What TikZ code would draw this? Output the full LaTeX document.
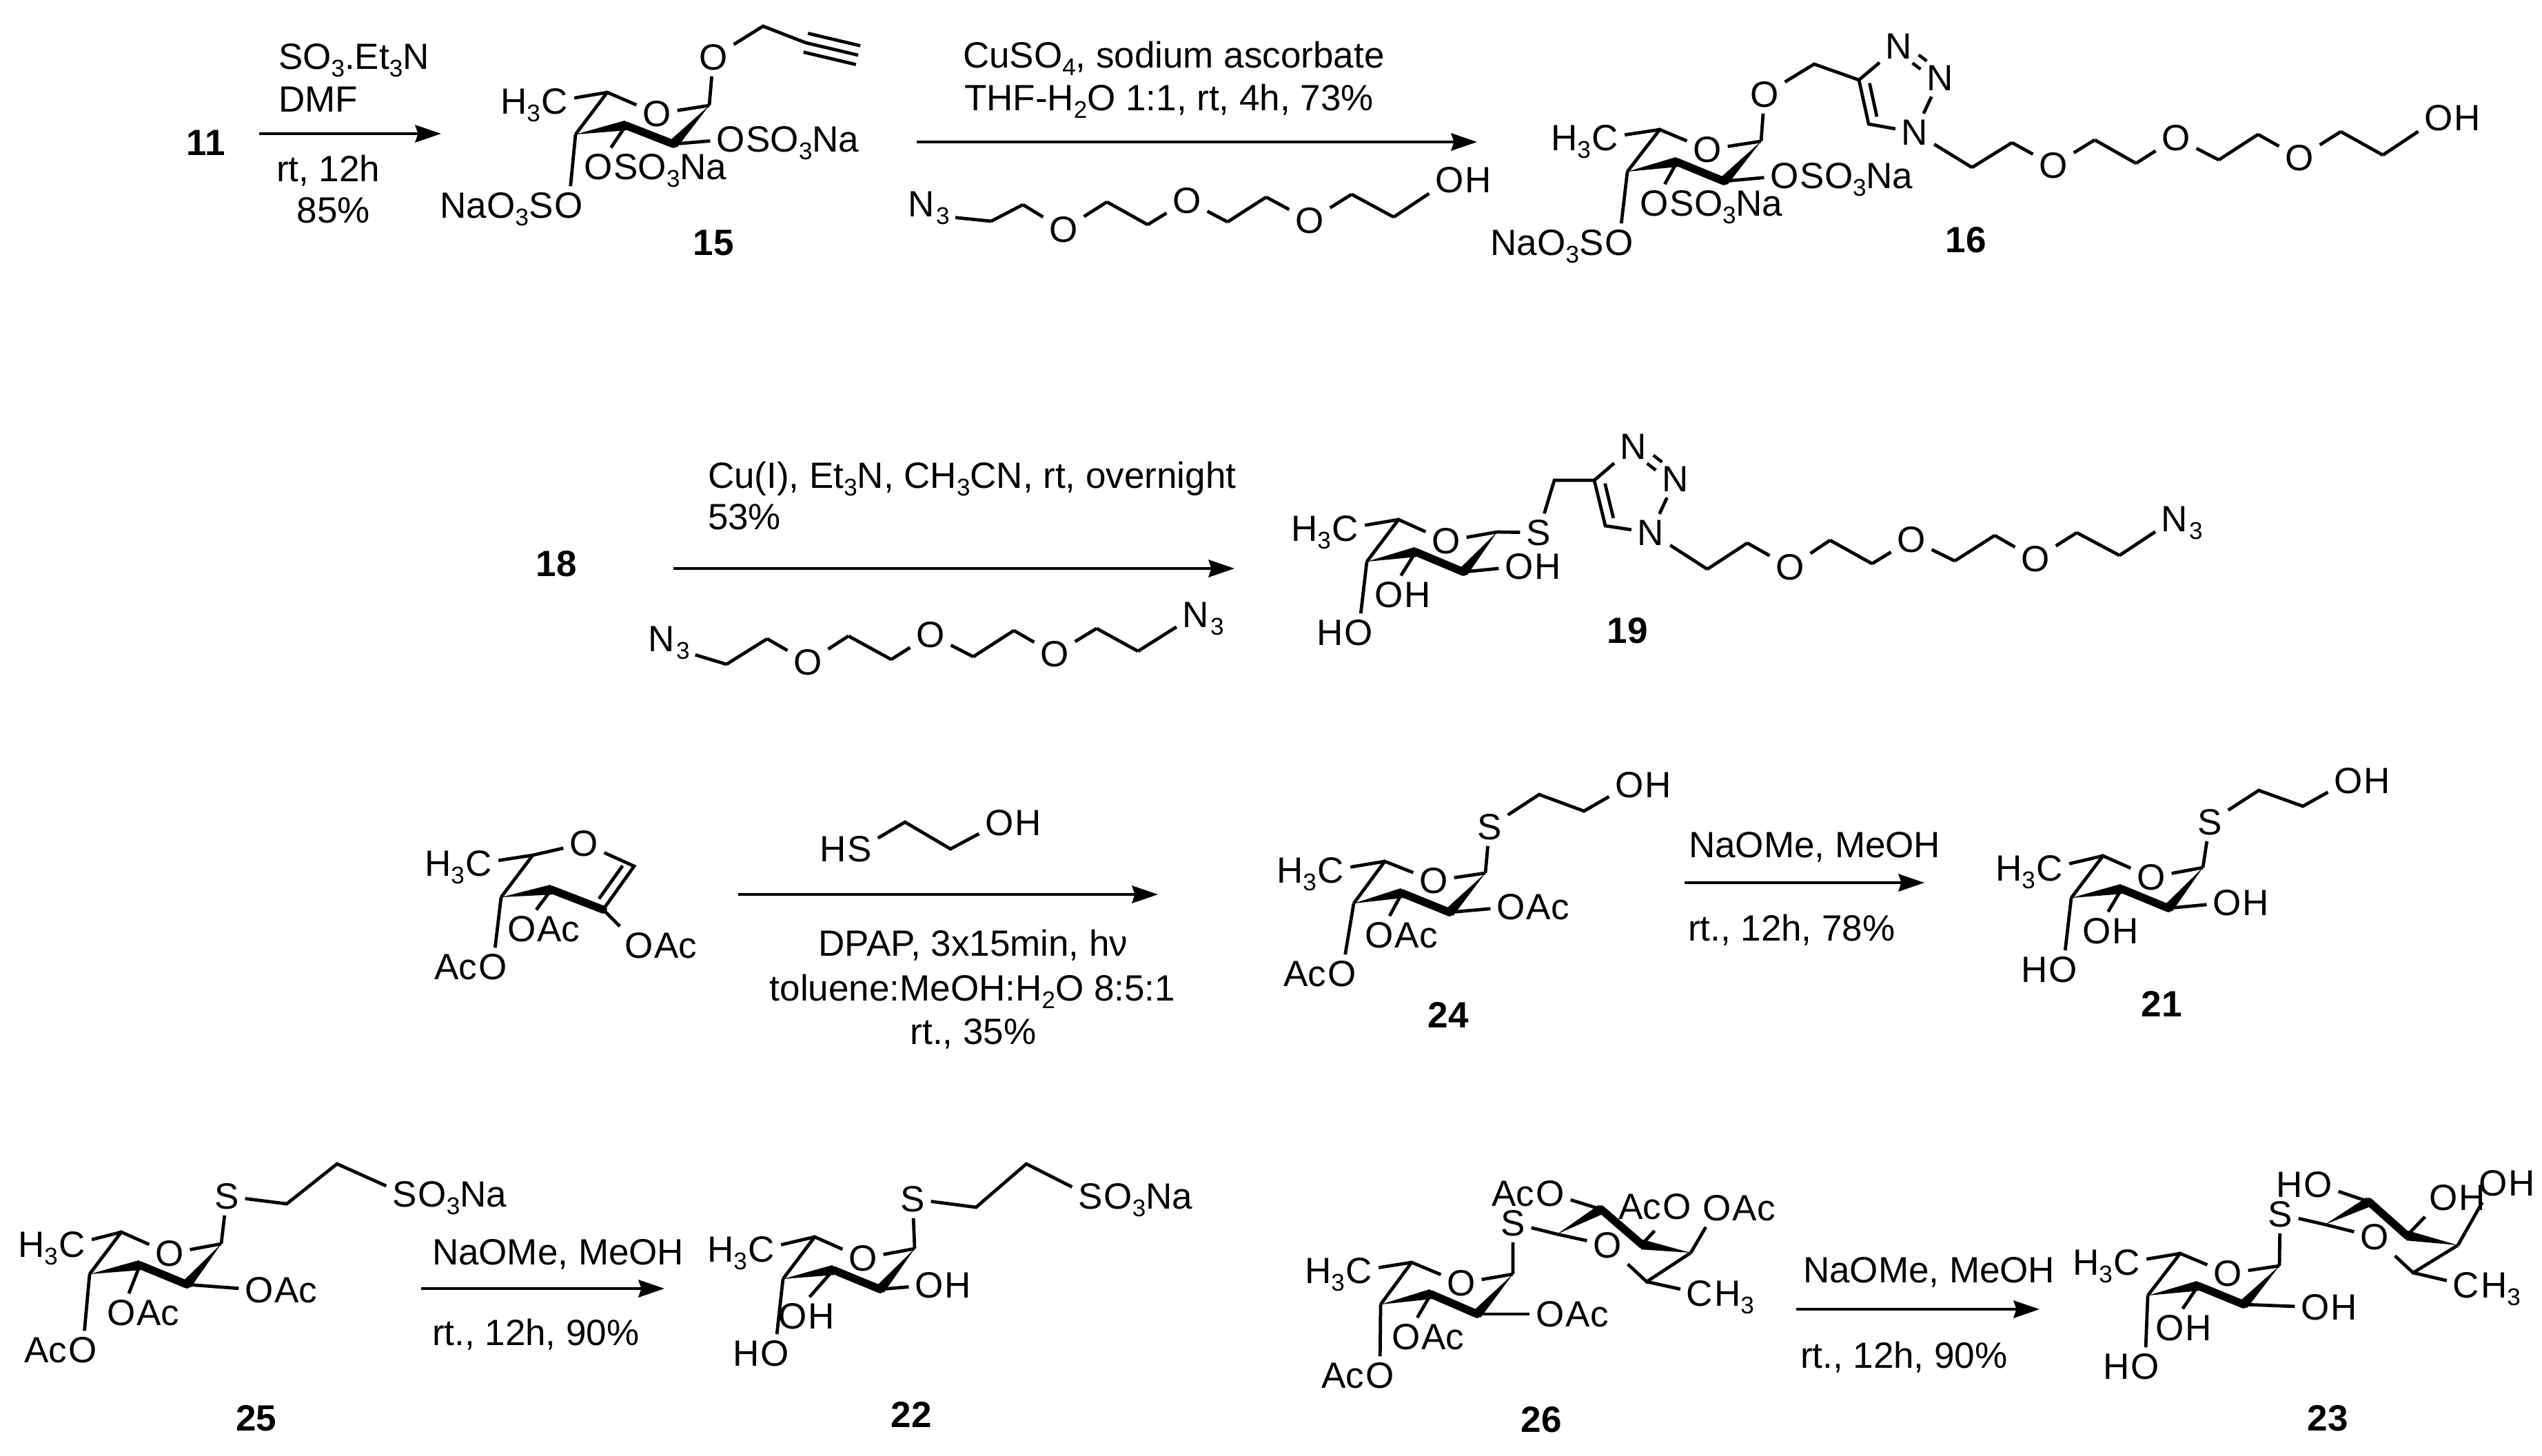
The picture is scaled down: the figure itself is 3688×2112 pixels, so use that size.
\documentclass[tikz,border=0pt]{standalone}
\usepackage{fontspec}
\setmainfont{Liberation Sans}
\usetikzlibrary{arrows.meta}
\usetikzlibrary{calc}
\newcommand{\chemsize}{\fontsize{10.6}{12}\selectfont}
\newcommand{\sbs}[1]{\raisebox{-0.22em}{\fontsize{7}{8}\selectfont #1}}
\tikzset{
  bond/.style={line width=0.95pt},
  boldbond/.style={line width=2.3pt, line cap=round},
  rxn/.style={line width=0.95pt, -{Stealth[length=7.5pt, width=5pt, inset=0.8pt]}},
  atom/.style={inner sep=1.6pt, font=\chemsize},
  tail/.style={inner sep=0pt, font=\chemsize},
  cpd/.style={inner sep=0pt, font=\chemsize\bfseries},
  reagent/.style={inner sep=0pt, font=\chemsize, anchor=base west},
  reagentc/.style={inner sep=0pt, font=\chemsize, anchor=base},
}
\newcommand{\atomR}[4]{\node [atom] (#1) at (#2) {#3};
  \node [tail, anchor=base west] (#1r) at ([xshift=-1.6pt]#1.base east) {#4};}
\newcommand{\atomL}[4]{\node [atom] (#1) at (#2) {#4};
  \node [tail, anchor=base east] (#1l) at ([xshift=1.6pt]#1.base west) {#3};}
\newcommand{\wedgebond}[2]{\fill (#1) -- ($(#2)!1.45pt!90:(#1)$) -- ($(#2)!1.45pt!-90:(#1)$) -- cycle;}
\newcommand{\innerbond}[3]{\draw [bond] ($(#1)!.12!(#2)!2.8pt!#3:(#2)$) -- ($(#2)!.12!(#1)!2.8pt!-#3:(#1)$);}
\newcommand{\pyran}[7]{%
  \coordinate (#1c5) at (#2);
  \node [atom] (#1o) at (#3) {O};
  \coordinate (#1c1) at (#4);
  \coordinate (#1c2) at (#5);
  \coordinate (#1c3) at (#6);
  \coordinate (#1c4) at (#7);
  \draw [bond] (#1o) -- (#1c5) -- (#1c4);
  \draw [bond] (#1o) -- (#1c1);
  \draw [boldbond] (#1c2) -- (#1c3);
  \wedgebond{#1c1}{#1c2}
  \wedgebond{#1c4}{#1c3}}
\newcommand{\triazole}[6]{%
  \coordinate (#1c4) at (#2);
  \node [atom] (#1n3) at (#3) {N};
  \node [atom] (#1n2) at (#4) {N};
  \node [atom] (#1n1) at (#5) {N};
  \coordinate (#1c5) at (#6);
  \draw [bond] (#1n3) -- (#1c4) -- (#1c5) -- (#1n1) -- (#1n2);
  \draw [bond, double, double distance=2pt, shorten <=-1pt, shorten >=-1pt] (#1n3) -- (#1n2);
  \innerbond{#1c4}{#1c5}{90}}
\newcommand{\pegchain}[2]{%
  \foreach \x/\y/\kind [count=\i, remember=\i as \p (initially 0)] in {#2} {
    \if\kind O \node [atom] (#1\i) at (\x,\y) {O};
    \else \coordinate (#1\i) at (\x,\y);
    \fi
    \ifnum\i>1 \draw [bond] (#1\p) -- (#1\i); \fi
  }}

\begin{document}
\begin{tikzpicture}[x=0.2pt, y=-0.2pt]

  \useasboundingbox (0,0) rectangle (3688,2112);

  % 11 to 15
  \node [cpd] (lab11) at (299,207) {11};
  \coordinate (r1s) at (376,194);
  \coordinate (r1e) at (640,194);
  \draw [rxn] (r1s) -- (r1e);
  \node [reagent] (r1a) at (403,100) {SO\sbs3.Et\sbs3N};
  \node [reagent] (r1b) at (403,162) {DMF};
  \node [reagent] (r1c) at (400,263) {rt, 12h};
  \node [reagentc] (r1d) at (484,323) {85\%};

  \pyran{a}{881,134}{953,165}{1029,153}{977,209}{908,182}{835,195}
  \node [atom] (aox) at (1035,83) {O};
  \coordinate (ach) at (1107,38);
  \coordinate (asp) at (1169,62);
  \coordinate (aend) at (1245,80);
  \draw [bond] (ac1) -- (aox) -- (ach) -- (asp) -- (aend);
  \draw [bond] ($(asp)!2.8pt!90:(aend)$) -- ($(aend)!2.8pt!-90:(asp)$);
  \draw [bond] ($(asp)!2.8pt!-90:(aend)$) -- ($(aend)!2.8pt!90:(asp)$);
  \atomL{ame}{805,147}{H\sbs3}{C}
  \atomR{as2}{1060,202}{O}{SO\sbs3Na}
  \atomR{as3}{868,242}{O}{SO\sbs3Na}
  \atomL{as4}{825,298}{NaO\sbs3S}{O}
  \draw [bond] (ac5) -- (ame);
  \draw [bond] (ac2) -- (as2);
  \draw [bond] (ac3) -- (as3);
  \draw [bond] (ac4) -- (as4);
  \node [cpd] (lab15) at (1035,352) {15};

  % 15 to 16
  \coordinate (r2s) at (1330,206);
  \coordinate (r2e) at (2143,206);
  \draw [rxn] (r2s) -- (r2e);
  \node [reagent] (r2a) at (1396,98) {CuSO\sbs4, sodium ascorbate};
  \node [reagent] (r2b) at (1398,160) {THF-H\sbs2O 1:1, rt, 4h, 73\%};
  \atomR{cn}{1337,296}{N}{\sbs3}
  \pegchain{cp}{1438/321/c, 1484/297/c, 1543/333/O, 1606/293/c, 1665/326/c, 1722/291/O,
    1781/322/c, 1837/286/c, 1900/320/O, 1961/282/c, 2022/315/c}
  \atomR{coh}{2103,261}{O}{H}
  \draw [bond, shorten <=1.5pt] (cnr) -- (cp1);
  \draw [bond] (cp11) -- (coh);

  \pyran{b}{2408,188}{2477,217}{2555,205}{2501,263}{2433,235}{2361,249}
  \node [atom] (box) at (2560,137) {O};
  \coordinate (bch) at (2632,93);
  \triazole{bt}{2697,116}{2755,67}{2815,113}{2778,192}{2711,180}
  \draw [bond] (bc1) -- (box) -- (bch) -- (btc4);
  \pegchain{bp}{2861/243/c, 2919/207/c, 2979/240/O, 3039/203/c, 3099/237/c, 3157/200/O,
    3219/232/c, 3276/195/c, 3336/229/O, 3396/191/c, 3457/225/c}
  \atomR{boh}{3538,171}{O}{H}
  \draw [bond] (btn1) -- (bp1);
  \draw [bond] (bp11) -- (boh);
  \atomL{bme}{2329,200}{H\sbs3}{C}
  \atomR{bs2}{2589,255}{O}{SO\sbs3Na}
  \atomR{bs3}{2400,295}{O}{SO\sbs3Na}
  \atomL{bs4}{2349,352}{NaO\sbs3S}{O}
  \draw [bond] (bc5) -- (bme);
  \draw [bond] (bc2) -- (bs2);
  \draw [bond] (bc3) -- (bs3);
  \draw [bond] (bc4) -- (bs4);
  \node [cpd] (lab16) at (2852,348) {16};

  % 18 to 19
  \node [cpd] (lab18) at (807,818) {18};
  \coordinate (r3s) at (977,825);
  \coordinate (r3e) at (1791,825);
  \draw [rxn] (r3s) -- (r3e);
  \node [reagent] (r3a) at (1026,708) {Cu(I), Et\sbs3N, CH\sbs3CN, rt, overnight};
  \node [reagent] (r3b) at (1026,768) {53\%};
  \atomR{en1}{960,927}{N}{\sbs3}
  \pegchain{ep}{1054/964/c, 1113/927/c, 1172/961/O, 1231/923/c, 1293/957/c, 1350/921/O,
    1412/953/c, 1471/915/c, 1530/949/O, 1591/912/c, 1651/945/c}
  \atomR{en2}{1735,892}{N}{\sbs3}
  \draw [bond, shorten <=1.5pt] (en1r) -- (ep1);
  \draw [bond] (ep11) -- (en2);

  \pyran{d}{2029,754}{2098,785}{2172,772}{2123,830}{2054,801}{1983,815}
  \node [atom] (ds) at (2232,773) {S};
  \coordinate (dch) at (2255,697);
  \triazole{dt}{2313,697}{2370,648}{2431,695}{2395,773}{2329,763}
  \draw [bond] (dc1) -- (ds) -- (dch) -- (dtc4);
  \pegchain{dp}{2477/826/c, 2535/788/c, 2597/823/O, 2655/784/c, 2716/818/c, 2773/783/O,
    2836/814/c, 2894/777/c, 2953/811/O, 3013/773/c, 3075/806/c}
  \atomR{dn}{3155,753}{N}{\sbs3}
  \draw [bond] (dtn1) -- (dp1);
  \draw [bond] (dp11) -- (dn);
  \atomL{dme}{1952,767}{H\sbs3}{C}
  \atomR{dh2}{2204,822}{O}{H}
  \atomR{dh3}{2015,863}{O}{H}
  \atomL{dh4}{1971,918}{H}{O}
  \draw [bond] (dc5) -- (dme);
  \draw [bond] (dc2) -- (dh2);
  \draw [bond] (dc3) -- (dh3);
  \draw [bond] (dc4) -- (dh4);
  \node [cpd] (lab19) at (2361,915) {19};

  % glycal to 24
  \coordinate (fc5) at (773,1241);
  \node [atom] (fo) at (847,1224) {O};
  \coordinate (fc1) at (920,1257);
  \coordinate (fc2) at (875,1320);
  \coordinate (fc3) at (800,1291);
  \coordinate (fc4) at (727,1302);
  \draw [bond] (fo) -- (fc5) -- (fc4);
  \draw [bond] (fo) -- (fc1) -- (fc2);
  \innerbond{fc1}{fc2}{-90}
  \draw [boldbond] (fc2) -- (fc3);
  \wedgebond{fc4}{fc3}
  \atomL{fme}{695,1253}{H\sbs3}{C}
  \atomR{fa2}{927,1372}{O}{Ac}
  \atomR{fa3}{757,1348}{O}{Ac}
  \atomL{fa4}{715,1403}{Ac}{O}
  \draw [bond] (fc5) -- (fme);
  \draw [bond] (fc2) -- (fa2);
  \draw [bond] (fc3) -- (fa3);
  \draw [bond] (fc4) -- (fa4);

  \coordinate (r4s) at (1071,1298);
  \coordinate (r4e) at (1680,1298);
  \draw [rxn] (r4s) -- (r4e);
  \atomL{hs}{1247,1232}{H}{S}
  \coordinate (hsa) at (1313,1193);
  \coordinate (hsb) at (1379,1232);
  \atomR{hso}{1450,1194}{O}{H}
  \draw [bond] (hs) -- (hsa) -- (hsb) -- (hso);
  \node [reagentc] (r4a) at (1412,1387) {DPAP, 3x15min, hν};
  \node [reagentc] (r4b) at (1411,1452) {toluene:MeOH:H\sbs2O 8:5:1};
  \node [reagentc] (r4c) at (1412,1515) {rt., 35\%};

  \pyran{g}{2009,1250}{2080,1278}{2155,1267}{2103,1324}{2034,1296}{1964,1311}
  \node [atom] (gs) at (2161,1200) {S};
  \coordinate (gsa) at (2233,1153);
  \coordinate (gsb) at (2298,1177);
  \atomR{goh}{2364,1139}{O}{H}
  \draw [bond] (gc1) -- (gs) -- (gsa) -- (gsb) -- (goh);
  \atomL{gme}{1931,1263}{H\sbs3}{C}
  \atomR{ga2}{2192,1316}{O}{Ac}
  \atomR{ga3}{2001,1357}{O}{Ac}
  \atomL{ga4}{1947,1413}{Ac}{O}
  \draw [bond] (gc5) -- (gme);
  \draw [bond] (gc2) -- (ga2);
  \draw [bond] (gc3) -- (ga3);
  \draw [bond] (gc4) -- (ga4);
  \node [cpd] (lab24) at (2101,1473) {24};

  % 24 to 21
  \coordinate (r5s) at (2444,1281);
  \coordinate (r5e) at (2792,1281);
  \draw [rxn] (r5s) -- (r5e);
  \node [reagent] (r5a) at (2449,1244) {NaOMe, MeOH};
  \node [reagent] (r5b) at (2448,1365) {rt., 12h, 78\%};

  \pyran{h}{3051,1242}{3121,1273}{3196,1259}{3146,1318}{3078,1290}{3005,1303}
  \node [atom] (hos) at (3206,1193) {S};
  \coordinate (hoa) at (3277,1147);
  \coordinate (hob) at (3341,1170);
  \atomR{hoh}{3407,1133}{O}{H}
  \draw [bond] (hc1) -- (hos) -- (hoa) -- (hob) -- (hoh);
  \atomL{hme}{2974,1260}{H\sbs3}{C}
  \atomR{hh2}{3231,1310}{O}{H}
  \atomR{hh3}{3042,1351}{O}{H}
  \atomL{hh4}{2993,1407}{H}{O}
  \draw [bond] (hc5) -- (hme);
  \draw [bond] (hc2) -- (hh2);
  \draw [bond] (hc3) -- (hh3);
  \draw [bond] (hc4) -- (hh4);
  \node [cpd] (lab21) at (3136,1457) {21};

  % 25 to 22
  \pyran{i}{176,1788}{246,1819}{321,1805}{271,1864}{203,1836}{130,1849}
  \node [atom] (is) at (329,1736) {S};
  \coordinate (ia) at (416,1747);
  \coordinate (ib) at (489,1689);
  \atomR{iso}{587,1733}{S}{O\sbs3Na}
  \draw [bond] (ic1) -- (is) -- (ia) -- (ib) -- (iso);
  \atomL{ime}{105,1806}{H\sbs3}{C}
  \atomR{ia2}{376,1872}{O}{Ac}
  \atomR{ia3}{176,1905}{O}{Ac}
  \atomL{ia4}{120,1959}{Ac}{O}
  \draw [bond] (ic5) -- (ime);
  \draw [bond] (ic2) -- (ia2);
  \draw [bond] (ic3) -- (ia3);
  \draw [bond] (ic4) -- (ia4);
  \node [cpd] (lab25) at (372,2058) {25};

  \coordinate (r6s) at (611,1870);
  \coordinate (r6e) at (964,1870);
  \draw [rxn] (r6s) -- (r6e);
  \node [reagent] (r6a) at (626,1835) {NaOMe, MeOH};
  \node [reagent] (r6b) at (626,1952) {rt., 12h, 90\%};

  \pyran{j}{1182,1795}{1252,1826}{1327,1812}{1277,1871}{1209,1843}{1136,1856}
  \node [atom] (js) at (1324,1740) {S};
  \coordinate (ja) at (1416,1752);
  \coordinate (jb) at (1489,1689);
  \atomR{jso}{1582,1736}{S}{O\sbs3Na}
  \draw [bond] (jc1) -- (js) -- (ja) -- (jb) -- (jso);
  \atomL{jme}{1105,1813}{H\sbs3}{C}
  \atomR{jh2}{1348,1865}{O}{H}
  \atomR{jh3}{1150,1910}{O}{H}
  \atomL{jh4}{1124,1964}{H}{O}
  \draw [bond] (jc5) -- (jme);
  \draw [bond] (jc2) -- (jh2);
  \draw [bond] (jc3) -- (jh3);
  \draw [bond] (jc4) -- (jh4);
  \node [cpd] (lab22) at (1322,2053) {22};

  % 26 to 23
  \pyran{k}{2048,1832}{2120,1862}{2195,1849}{2143,1907}{2076,1878}{2003,1893}
  \pyran{l}{2389,1860}{2332,1807}{2259,1791}{2323,1755}{2382,1806}{2453,1818}
  \node [atom] (ks) at (2195,1775) {S};
  \draw [bond] (kc1) -- (ks) -- (lc1);
  \atomL{kme}{1972,1844}{H\sbs3}{C}
  \atomR{ka2}{2249,1907}{O}{Ac}
  \atomR{ka3}{2040,1940}{O}{Ac}
  \atomL{ka4}{2002,1996}{Ac}{O}
  \draw [bond] (kc5) -- (kme);
  \draw [bond] (kc2) -- (ka2);
  \draw [bond] (kc3) -- (ka3);
  \draw [bond] (kc4) -- (ka4);
  \atomL{la2}{2249,1732}{Ac}{O}
  \atomL{la3}{2433,1751}{Ac}{O}
  \atomR{la4}{2491,1753}{O}{Ac}
  \atomR{lme}{2466,1877}{C}{H\sbs3}
  \draw [bond] (lc2) -- (la2);
  \draw [bond, shorten >=2pt] (lc3) -- (la3);
  \draw [bond] (lc4) -- (la4);
  \draw [bond] (lc5) -- (lme);
  \node [cpd] (lab26) at (2236,2060) {26};

  \coordinate (r7s) at (2606,1900);
  \coordinate (r7e) at (2959,1900);
  \draw [rxn] (r7s) -- (r7e);
  \node [reagent] (r7a) at (2615,1861) {NaOMe, MeOH};
  \node [reagent] (r7b) at (2611,1985) {rt., 12h, 90\%};

  \pyran{m}{3163,1819}{3232,1848}{3307,1837}{3255,1893}{3189,1866}{3116,1880}
  \pyran{n}{3501,1847}{3445,1795}{3373,1777}{3437,1744}{3492,1793}{3566,1807}
  \node [atom] (ms) at (3308,1762) {S};
  \draw [bond] (mc1) -- (ms) -- (nc1);
  \atomL{mme}{3086,1832}{H\sbs3}{C}
  \atomR{mh2}{3359,1897}{O}{H}
  \atomR{mh3}{3148,1927}{O}{H}
  \atomL{mh4}{3112,1983}{H}{O}
  \draw [bond] (mc5) -- (mme);
  \draw [bond] (mc2) -- (mh2);
  \draw [bond] (mc3) -- (mh3);
  \draw [bond] (mc4) -- (mh4);
  \atomL{nh2}{3363,1719}{H}{O}
  \atomR{nh3}{3545,1738}{O}{H}
  \atomR{nh4}{3617,1717}{O}{H}
  \atomR{nme}{3578,1865}{C}{H\sbs3}
  \draw [bond] (nc2) -- (nh2);
  \draw [bond] (nc3) -- (nh3);
  \draw [bond] (nc4) -- (nh4);
  \draw [bond] (nc5) -- (nme);
  \node [cpd] (lab23) at (3377,2058) {23};

\end{tikzpicture}
\end{document}
